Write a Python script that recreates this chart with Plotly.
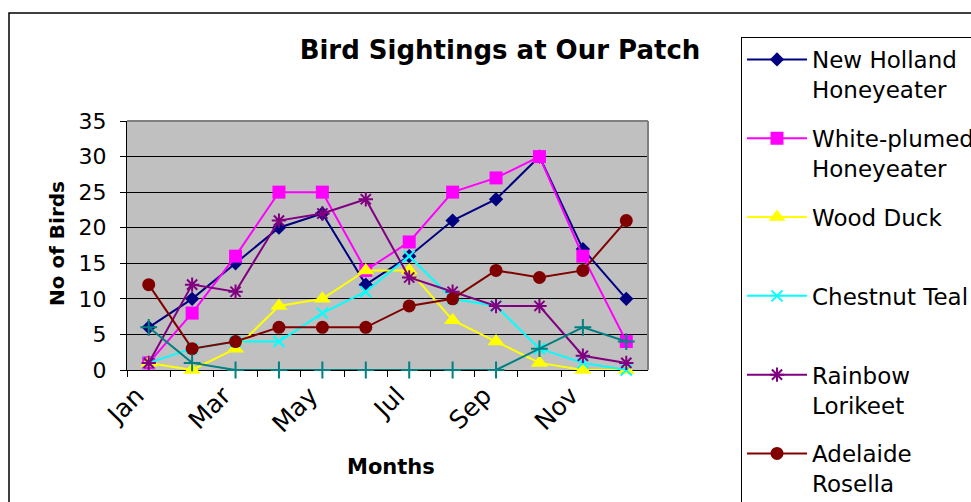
import plotly.graph_objects as go

MONTHS = ["Jan", "Feb", "Mar", "Apr", "May", "Jun", "Jul", "Aug", "Sep", "Oct", "Nov", "Dec"]
TICK_TEXT = ["Jan", "", "Mar", "", "May", "", "Jul", "", "Sep", "", "Nov", ""]

new_holland = [6, 10, 15, 20, 22, 12, 16, 21, 24, 30, 17, 10]
white_plumed = [1, 8, 16, 25, 25, 14, 18, 25, 27, 30, 16, 4]
wood_duck = [1, 0, 3, 9, 10, 14, 14, 7, 4, 1, 0, 0]
chestnut_teal = [1, 3, 4, 4, 8, 11, 16, 10, 9, 3, 1, 0]
rainbow_lorikeet = [1, 12, 11, 21, 22, 24, 13, 11, 9, 9, 2, 1]
adelaide_rosella = [12, 3, 4, 6, 6, 6, 9, 10, 14, 13, 14, 21]
series_7 = [6, 1, 0, 0, 0, 0, 0, 0, 0, 3, 6, 4]

FONT = "DejaVu Sans"
W, H = 971, 502

series = [
    ("New Holland<br>Honeyeater", new_holland, "#000080", "diamond", 11, True),
    ("White-plumed<br>Honeyeater", white_plumed, "#FF00FF", "square", 13, True),
    ("Wood Duck<br> ", wood_duck, "#FFFF00", "triangle-up", 15, True),
    ("Chestnut Teal<br> ", chestnut_teal, "#00FFFF", "x-thin-open", 11, True),
    ("Rainbow<br>Lorikeet", rainbow_lorikeet, "#800080", "asterisk-open", 12, True),
    ("Adelaide<br>Rosella", adelaide_rosella, "#800000", "circle", 13, True),
    ("Series 7", series_7, "#008080", "cross-thin-open", 12, False),
]

fig = go.Figure()
for i, (name, vals, col, sym, sz, show) in enumerate(series):
    open_sym = sym.endswith("open")
    fig.add_trace(go.Scatter(
        x=MONTHS, y=vals, name=name, mode="lines+markers",
        line=dict(color=col, width=2),
        marker=dict(symbol=sym, size=sz, color=col,
                    line=dict(color=col, width=2 if open_sym else 0)),
        legendgroup=f"g{i}", showlegend=show, cliponaxis=False,
    ))

px0, px1 = 127, 648
py_top, py_bot = 121, 370

fig.update_layout(
    width=W, height=H,
    margin=dict(l=0, r=0, t=0, b=0, autoexpand=False),
    paper_bgcolor="white",
    plot_bgcolor="#C0C0C0",
    font=dict(family=FONT, color="black", size=22),
    title=dict(text="<b>Bird Sightings at Our Patch</b>", font=dict(family=FONT, size=26, color="black"),
               x=500 / W, xanchor="center", y=1 - 50 / H, yanchor="middle", xref="paper", yref="paper"),
    xaxis=dict(
        domain=[px0 / W, px1 / W],
        type="category", categoryorder="array", categoryarray=MONTHS,
        tickmode="array", tickvals=MONTHS, ticktext=TICK_TEXT,
        tickson="boundaries", ticks="outside", ticklen=6, tickwidth=1, tickcolor="black",
        tickangle=-45, tickfont=dict(size=25, family=FONT),
        ticklabelstandoff=0, ticklabelshift=-12,
        showgrid=False, showline=True, linecolor="black", linewidth=1,
        range=[-0.5, 11.5], layer="below traces", zeroline=False,
    ),
    yaxis=dict(
        domain=[(H - py_bot) / H, (H - py_top) / H],
        range=[0, 35], tickmode="linear", tick0=0, dtick=5,
        ticks="outside", ticklen=6, tickwidth=1, tickcolor="black",
        tickfont=dict(size=22, family=FONT), ticklabelstandoff=9,
        showgrid=True, gridcolor="black", gridwidth=1,
        showline=True, linecolor="black", linewidth=1, zeroline=False,
        layer="below traces",
    ),
    legend=dict(
        x=741 / W, xanchor="left", y=1 - 37 / H, yanchor="top",
        bgcolor="white", bordercolor="black", borderwidth=1,
        font=dict(family=FONT, size=23, color="black"),
        traceorder="grouped", tracegroupgap=16, valign="top", itemwidth=60,
    ),
    showlegend=True,
    annotations=[
        dict(text="<b>No of Birds</b>", textangle=-90, x=57 / W, y=1 - 244 / H,
             xref="paper", yref="paper", showarrow=False, xanchor="center", yanchor="middle",
             font=dict(family=FONT, size=20, color="black")),
        dict(text="<b>Months</b>", x=391 / W, y=1 - 467 / H,
             xref="paper", yref="paper", showarrow=False, xanchor="center", yanchor="middle",
             font=dict(family=FONT, size=21, color="black")),
    ],
    shapes=[
        dict(type="rect", xref="paper", yref="paper", x0=9 / W, y0=-0.2, x1=1.2, y1=1 - 13 / H,
             line=dict(color="black", width=1.5), layer="below"),
        dict(type="line", xref="x domain", yref="y domain", x0=0, x1=1, y0=1, y1=1,
             line=dict(color="#808080", width=2), layer="above"),
        dict(type="line", xref="x domain", yref="y domain", x0=1, x1=1, y0=0, y1=1,
             line=dict(color="#808080", width=2), layer="above"),
    ],
)

fig.write_html("out.html", config={"displayModeBar": False},
               post_script="document.body.style.margin='0px';document.body.style.overflow='hidden';")
